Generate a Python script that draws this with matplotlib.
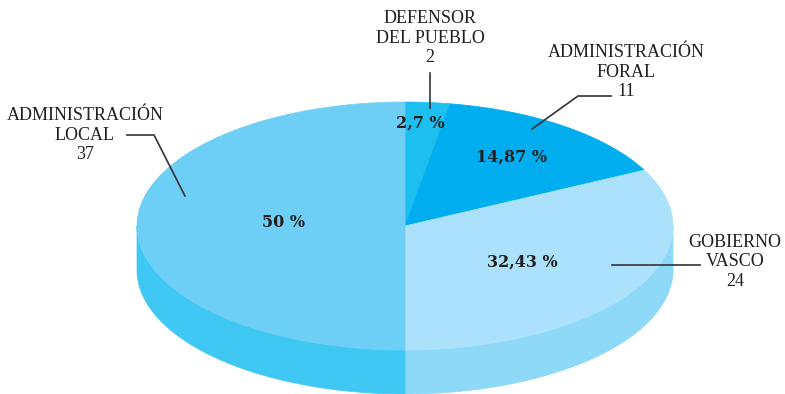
import numpy as np
import matplotlib.pyplot as plt
from matplotlib.patches import Polygon

# datos
categorias = ['DEFENSOR\nDEL PUEBLO', 'ADMINISTRACIÓN\nFORAL', 'GOBIERNO\nVASCO', 'ADMINISTRACIÓN\nLOCAL']
valores = [2, 11, 24, 37]
porcentajes = ['2,7 %', '14,87 %', '32,43 %', '50 %']

color_top = ['#1cbff0', '#00aeef', '#abe1fa', '#6dcff6']
color_lado = ['#10b4e8', '#009fdc', '#8ed8f8', '#40c8f4']

# geometria en pixeles
cx, cy = 405, 226
a, b = 268, 124
prof = 44

fig = plt.figure(figsize=(7.85, 3.94), dpi=100)
ax = fig.add_axes([0, 0, 1, 1])
ax.set_xlim(0, 785)
ax.set_ylim(394, 0)
ax.axis('off')


def punto(t, dy=0):
    return cx + a * np.cos(t), cy - b * np.sin(t) + dy


total = sum(valores)
angulos = [np.pi / 2]
for v in valores:
    angulos.append(angulos[-1] - 2 * np.pi * v / total)

# lados (solo la parte delantera, sin(t) < 0)
for i in range(len(valores)):
    lo, hi = angulos[i + 1], angulos[i]
    for k in range(-1, 2):
        s0 = max(lo, -np.pi + 2 * np.pi * k)
        s1 = min(hi, 0 + 2 * np.pi * k)
        if s1 > s0:
            ts = np.linspace(s0, s1, 200)
            x, y = punto(ts)
            x2, y2 = punto(ts[::-1], prof)
            pts = np.column_stack([np.concatenate([x, x2]), np.concatenate([y, y2])])
            ax.add_patch(Polygon(pts, closed=True, fc=color_lado[i], ec=color_lado[i], lw=0.5))

# caras superiores
for i in range(len(valores)):
    ts = np.linspace(angulos[i + 1], angulos[i], 300)
    x, y = punto(ts)
    pts = np.column_stack([np.concatenate([[cx], x]), np.concatenate([[cy], y])])
    ax.add_patch(Polygon(pts, closed=True, fc=color_top[i], ec=color_top[i], lw=0.5))

# porcentajes
pos_pct = [(420, 123), (512, 157), (522, 262), (283, 222)]
for (x, y), p in zip(pos_pct, porcentajes):
    ax.text(x, y, p, ha='center', va='center', fontsize=11.5, fontweight='bold',
            family='DejaVu Serif', color='#231f20')

# etiquetas
pos_lab = [(430, 38), (626, 72), (735, 262), (85, 135)]
for (x, y), c, v in zip(pos_lab, categorias, valores):
    ax.text(x, y, c + '\n' + str(v), ha='center', va='center', fontsize=13,
            family='Liberation Serif', color='#231f20', linespacing=1.18)

# lineas guia
lc = '#333333'
ax.plot([430, 430], [73, 108], color=lc, lw=1.2)
ax.plot([532, 578, 611], [129, 96, 96], color=lc, lw=1.2)
ax.plot([612, 700], [265, 265], color=lc, lw=1.2)
ax.plot([127, 154, 185], [135, 135, 196], color=lc, lw=1.2)

plt.savefig('out.png', dpi=100)
